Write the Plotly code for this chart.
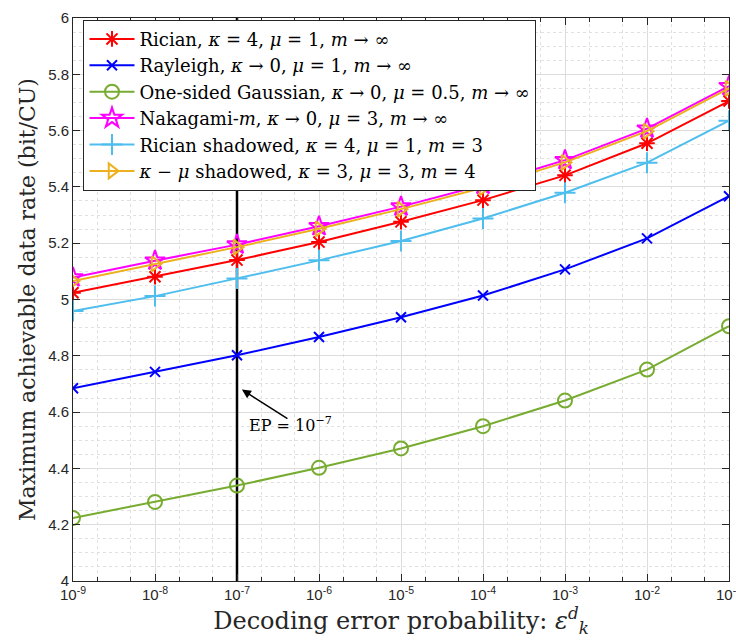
import plotly.graph_objects as go

eps = [1e-9, 1e-8, 1e-7, 1e-6, 1e-5, 1e-4, 1e-3, 1e-2, 1e-1]
tick_labels_x = ["10<sup>-9</sup>", "10<sup>-8</sup>", "10<sup>-7</sup>", "10<sup>-6</sup>", "10<sup>-5</sup>",
                 "10<sup>-4</sup>", "10<sup>-3</sup>", "10<sup>-2</sup>", "10<sup>-1</sup>"]
y_ticks = [4, 4.2, 4.4, 4.6, 4.8, 5, 5.2, 5.4, 5.6, 5.8, 6]
y_tick_labels = ["4", "4.2", "4.4", "4.6", "4.8", "5", "5.2", "5.4", "5.6", "5.8", "6"]

rician = [5.024, 5.081, 5.140, 5.204, 5.276, 5.353, 5.441, 5.555, 5.705]
rayleigh = [4.685, 4.743, 4.802, 4.867, 4.937, 5.014, 5.107, 5.217, 5.367]
gaussian = [4.224, 4.281, 4.339, 4.402, 4.471, 4.550, 4.641, 4.751, 4.905]
nakagami = [5.078, 5.138, 5.195, 5.260, 5.330, 5.407, 5.495, 5.607, 5.758]
rician_sh = [4.959, 5.012, 5.075, 5.139, 5.208, 5.288, 5.379, 5.486, 5.635]
kmu_sh = [5.066, 5.127, 5.186, 5.251, 5.321, 5.397, 5.487, 5.598, 5.750]

ep_line_x = [1e-7, 1e-7]
ep_line_y = [4, 6]

series = [
    ("Rician, <i>κ</i> = 4, <i>μ</i> = 1, <i>m</i> → ∞", rician, "#FF0000", "asterisk-open", 13),
    ("Rayleigh, <i>κ</i> → 0, <i>μ</i> = 1, <i>m</i> → ∞", rayleigh, "#0000FF", "x-thin-open", 10),
    ("One-sided Gaussian, <i>κ</i> → 0, <i>μ</i> = 0.5, <i>m</i> → ∞", gaussian, "#77AC30", "circle-open", 14),
    ("Nakagami-<i>m</i>, <i>κ</i> → 0, <i>μ</i> = 3, <i>m</i> → ∞", nakagami, "#FF00FF", "star-open", 15),
    ("Rician shadowed, <i>κ</i> = 4, <i>μ</i> = 1, <i>m</i> = 3", rician_sh, "#4DBEEE", "cross-thin-open", 15),
    ("<i>κ</i> − <i>μ</i> shadowed, <i>κ</i> = 3, <i>μ</i> = 3, <i>m</i> = 4", kmu_sh, "#EDB120", "triangle-right-open", 13),
]

fig = go.Figure()
fig.add_trace(go.Scatter(x=ep_line_x, y=ep_line_y, mode="lines",
                         line=dict(color="black", width=2.5), showlegend=False, hoverinfo="skip"))
for name, vals, col, sym, sz in series:
    fig.add_trace(go.Scatter(x=eps, y=vals, mode="lines+markers", name=name,
                             line=dict(color=col, width=2),
                             marker=dict(symbol=sym, size=sz, color=col, line=dict(color=col, width=2))))

fig.add_annotation(x=-6.94, y=4.68, xref="x", yref="y", ax=47, ay=30, showarrow=True,
                   arrowhead=2, arrowsize=1.2, arrowwidth=1.5, arrowcolor="black", text="")
fig.add_annotation(x=-6.88, y=4.556, xref="x", yref="y", showarrow=False, xanchor="left",
                   text="EP = 10<sup>−7</sup>", font=dict(family="DejaVu Serif", size=16, color="black"))

fig.update_layout(
    width=736, height=643,
    margin=dict(l=73, r=7, t=18, b=62, autoexpand=False),
    paper_bgcolor="white", plot_bgcolor="white",
    font=dict(family="Liberation Sans", color="#262626"),
    showlegend=True,
    legend=dict(x=0.016, y=0.997, xanchor="left", yanchor="top",
                bgcolor="white", bordercolor="#262626", borderwidth=1,
                font=dict(family="DejaVu Serif", size=18, color="black"),
                tracegroupgap=0, itemwidth=45),
)
fig.update_xaxes(type="log", range=[-9, -1], tickvals=eps, ticktext=tick_labels_x,
                 tickfont=dict(size=15, color="#262626"), ticklabeloverflow="allow", automargin=False,
                 showgrid=True, gridcolor="#DCDCDC", gridwidth=1,
                 minor=dict(showgrid=True, gridcolor="#E0E0E0", griddash="dot", ticks="inside", ticklen=4,
                            tickcolor="#262626"),
                 ticks="inside", ticklen=7, tickcolor="#262626",
                 showline=True, linecolor="#262626", linewidth=1, mirror="ticks",
                 zeroline=False,
                 title=dict(text="Decoding error probability: <i>ε</i><sup><i>d</i></sup><sub><i>k</i></sub>",
                            font=dict(family="DejaVu Serif", size=24, color="#262626"), standoff=3))
fig.update_yaxes(range=[4, 6], tickvals=y_ticks, ticktext=y_tick_labels, automargin=False,
                 tickfont=dict(size=15, color="#262626"),
                 showgrid=True, gridcolor="#DCDCDC", gridwidth=1,
                 minor=dict(showgrid=True, gridcolor="#E0E0E0", griddash="dot", dtick=0.05),
                 ticks="inside", ticklen=7, tickcolor="#262626",
                 showline=True, linecolor="#262626", linewidth=1, mirror="ticks",
                 zeroline=False,
                 title=dict(text="Maximum achievable data rate (bit/CU)",
                            font=dict(family="DejaVu Serif", size=22, color="#262626"), standoff=6))

fig.write_html("out.html", config={"displayModeBar": False},
               post_script="document.body.style.margin='0';")
